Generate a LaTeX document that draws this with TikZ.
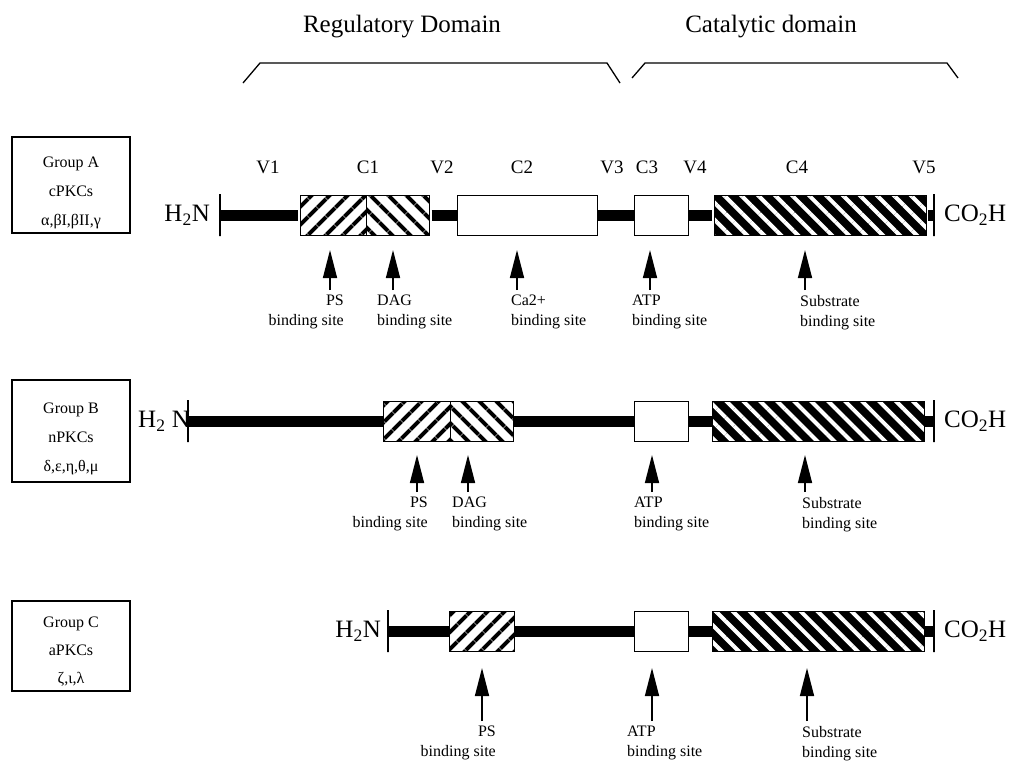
\documentclass[tikz,border=0pt]{standalone}
\usepackage{fontspec}
\setmainfont{Liberation Serif}
\usetikzlibrary{positioning,patterns.meta,arrows.meta}

\begin{document}
\begin{tikzpicture}[x=1pt,y=-1pt,
    dom/.style={draw, line width=.9pt, minimum height=40pt, inner sep=0pt, anchor=west},
    hatchR/.style={pattern={Lines[angle=45,distance=13pt,line width=4.5pt]}},
    hatchL/.style={pattern={Lines[angle=-45,distance=13pt,line width=4.5pt]}},
    hatchK/.style={preaction={fill=black}, pattern={Lines[angle=-45,distance=12pt,line width=4pt]}, pattern color=white},
    endbar/.style={draw, line width=1.3pt, minimum width=0pt, minimum height=42pt, inner sep=0pt},
    backbone/.style={line width=11pt},
    site/.style={-{Triangle[length=28pt,width=14pt]}, line width=1.5pt, shorten <=4pt},
    brace/.style={line width=1.3pt}]

  \useasboundingbox (0,0) rectangle (1015,761);

  % domain titles
  \begin{scope}[every node/.style={font=\fontsize{25}{30}\selectfont}]
    \node (reg) at (402,27) {Regulatory Domain};
    \node (cat) at (771,27) {Catalytic domain};
  \end{scope}
  \draw[brace] (243,83) -- (260,63) -- (607,63) -- (620,83);
  \draw[brace] (632,78) -- (645,63) -- (947,63) -- (958,78);

  % group boxes
  \begin{scope}[every node/.style={draw, line width=1.4pt, minimum width=118pt, align=center,
      inner sep=3pt, text height=84pt, font=\fontsize{16}{29}\selectfont}]
    \node[minimum height=96pt]  (grpA) at (71,185) {Group A\\cPKCs\\α,βI,βII,γ};
    \node[minimum height=102pt] (grpB) at (71,431) {Group B\\nPKCs\\δ,ε,η,θ,μ};
    \node[minimum height=90pt, text height=78pt, font=\fontsize{16}{28}\selectfont]
      (grpC) at (71,646) {Group C\\aPKCs\\ζ,ι,λ};
  \end{scope}

  % region labels
  \begin{scope}[every node/.style={font=\fontsize{19}{22}\selectfont}]
    \node (v1) at (268,167) {V1};
    \node (c1) at (368,167) {C1};
    \node (v2) at (442,167) {V2};
    \node (c2) at (522,167) {C2};
    \node (v3) at (612,167) {V3};
    \node (c3) at (647,167) {C3};
    \node (v4) at (695,167) {V4};
    \node (c4) at (797,167) {C4};
    \node (v5) at (924,167) {V5};
  \end{scope}

  % group A
  \node[endbar] (A-n) at (220,215) {};
  \node[dom, hatchR, minimum width=66pt]  (A-c1l) at (298,215) {};
  \node[dom, hatchL, minimum width=63pt]  (A-c1r) at (364,215) {};
  \node[dom, minimum width=140pt]         (A-c2)  at (457,215) {};
  \node[dom, minimum width=54pt]          (A-c3)  at (634,215) {};
  \node[dom, hatchK, minimum width=212pt] (A-c4)  at (712,215) {};
  \node[endbar] (A-c) at (934,215) {};
  \draw[backbone] (A-n) -- (A-c1l);
  \draw[backbone] (A-c1r) -- (A-c2);
  \draw[backbone] (A-c2) -- (A-c3);
  \draw[backbone] (A-c3) -- (A-c4);
  \draw[backbone] (A-c4) -- (A-c);

  % group B
  \node[endbar] (B-n) at (188,421) {};
  \node[dom, hatchR, minimum width=67pt]  (B-c1l) at (383,421) {};
  \node[dom, hatchL, minimum width=63pt]  (B-c1r) at (450,421) {};
  \node[dom, minimum width=54pt]          (B-c3)  at (634,421) {};
  \node[dom, hatchK, minimum width=212pt] (B-c4)  at (712,421) {};
  \node[endbar] (B-c) at (934,421) {};
  \draw[backbone] (B-n) -- (B-c1l);
  \draw[backbone] (B-c1r) -- (B-c3);
  \draw[backbone] (B-c3) -- (B-c4);
  \draw[backbone] (B-c4) -- (B-c);

  % group C
  \node[endbar] (C-n) at (388,631) {};
  \node[dom, hatchR, minimum width=65pt]  (C-c1)  at (449,631) {};
  \node[dom, minimum width=54pt]          (C-c3)  at (634,631) {};
  \node[dom, hatchK, minimum width=212pt] (C-c4)  at (712,631) {};
  \node[endbar] (C-c) at (934,631) {};
  \draw[backbone] (C-n) -- (C-c1);
  \draw[backbone] (C-c1) -- (C-c3);
  \draw[backbone] (C-c3) -- (C-c4);
  \draw[backbone] (C-c4) -- (C-c);

  % termini
  \begin{scope}[every node/.style={font=\fontsize{25}{30}\selectfont}]
    \node[left=6pt of A-n]  (A-h2n)  {H\textsubscript{2}N};
    \node[right=6pt of A-c] (A-co2h) {CO\textsubscript{2}H};
    \node[left=-6pt of B-n] (B-h2n)  {H\textsubscript{2} N};
    \node[right=6pt of B-c] (B-co2h) {CO\textsubscript{2}H};
    \node[left=3pt of C-n]  (C-h2n)  {H\textsubscript{2}N};
    \node[right=6pt of C-c] (C-co2h) {CO\textsubscript{2}H};
  \end{scope}

  % binding sites
  \coordinate (A-ps)  at (330,250);
  \coordinate (A-dag) at (393,250);
  \coordinate (A-ca)  at (517,250);
  \coordinate (A-atp) at (650,250);
  \coordinate (A-sub) at (805,250);
  \coordinate (B-ps)  at (417,455);
  \coordinate (B-dag) at (468,455);
  \coordinate (B-atp) at (652,455);
  \coordinate (B-sub) at (805,455);
  \coordinate (C-ps)  at (482,668);
  \coordinate (C-atp) at (652,668);
  \coordinate (C-sub) at (807,668);

  \begin{scope}[every node/.style={font=\fontsize{16}{20}\selectfont, inner sep=1pt}]
    \node[anchor=north east, align=right] (A-psl)  at (345,294) {PS\\binding site};
    \node[anchor=north west, align=left]  (A-dagl) at (376,294) {DAG\\binding site};
    \node[anchor=north west, align=left]  (A-cal)  at (510,294) {Ca2+\\binding site};
    \node[anchor=north west, align=left]  (A-atpl) at (631,294) {ATP\\binding site};
    \node[anchor=north west, align=left]  (A-subl) at (799,294) {Substrate\\binding site};

    \node[anchor=north east, align=right] (B-psl)  at (429,496) {PS\\binding site};
    \node[anchor=north west, align=left]  (B-dagl) at (451,496) {DAG\\binding site};
    \node[anchor=north west, align=left]  (B-atpl) at (633,496) {ATP\\binding site};
    \node[anchor=north west, align=left]  (B-subl) at (801,496) {Substrate\\binding site};

    \node[anchor=north east, align=right] (C-psl)  at (497,725) {PS\\binding site};
    \node[anchor=north west, align=left]  (C-atpl) at (626,725) {ATP\\binding site};
    \node[anchor=north west, align=left]  (C-subl) at (801,725) {Substrate\\binding site};
  \end{scope}

  \draw[site] (A-ps |- A-psl.north)   -- (A-ps);
  \draw[site] (A-dag |- A-dagl.north) -- (A-dag);
  \draw[site] (A-ca |- A-cal.north)   -- (A-ca);
  \draw[site] (A-atp |- A-atpl.north) -- (A-atp);
  \draw[site] (A-sub |- A-subl.north) -- (A-sub);
  \draw[site] (B-ps |- B-psl.north)   -- (B-ps);
  \draw[site] (B-dag |- B-dagl.north) -- (B-dag);
  \draw[site] (B-atp |- B-atpl.north) -- (B-atp);
  \draw[site] (B-sub |- B-subl.north) -- (B-sub);
  \begin{scope}[shorten <=15pt]
    \draw[site] (C-ps |- C-psl.north)   -- (C-ps);
    \draw[site] (C-atp |- C-atpl.north) -- (C-atp);
    \draw[site] (C-sub |- C-subl.north) -- (C-sub);
  \end{scope}

\end{tikzpicture}
\end{document}
